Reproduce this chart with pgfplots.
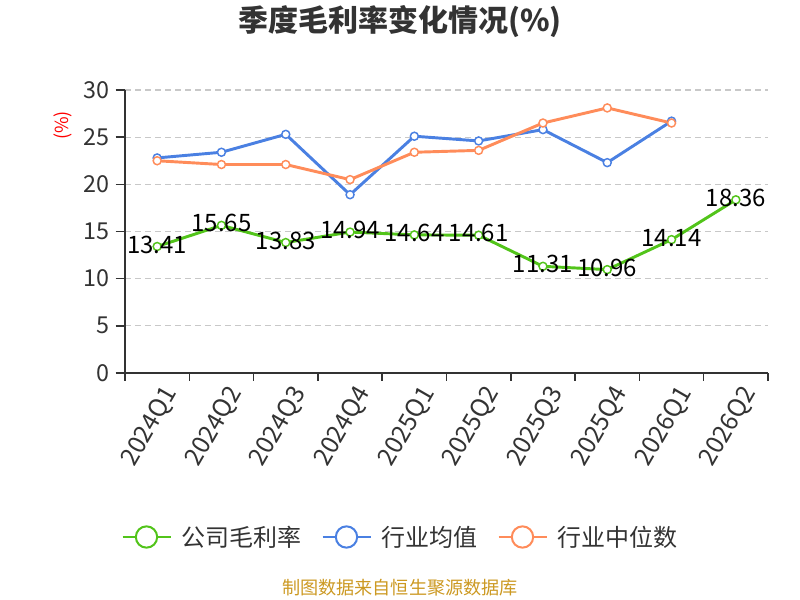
\documentclass[border=0pt]{standalone}
\usepackage{fontspec}
\setmainfont{Noto Sans CJK SC}
\usepackage{pgfplots}
\pgfplotsset{compat=1.18}
\definecolor{cgreen}{RGB}{82,196,26}
\definecolor{cblue}{RGB}{74,128,226}
\definecolor{corange}{RGB}{255,140,90}
\definecolor{ctext}{RGB}{51,51,51}
\definecolor{cgrid}{RGB}{200,200,200}
\definecolor{cfoot}{RGB}{204,153,34}
\begin{document}
\begin{tikzpicture}[x=1pt,y=1pt]
\useasboundingbox (0,0) rectangle (600,450);
\begin{axis}[
  at={(93.75pt,170.25pt)}, anchor=south west,
  scale only axis, width=482.25pt, height=212.25pt,
  xmin=-0.5, xmax=9.5, ymin=0, ymax=30,
  clip=false,
  axis x line*=bottom, axis y line*=left,
  axis line style={ctext, line width=1.1pt, -},
  tick align=outside,
  xtick={0,...,9},
  xticklabels={2024Q1,2024Q2,2024Q3,2024Q4,2025Q1,2025Q2,2025Q3,2025Q4,2026Q1,2026Q2},
  minor xtick={-0.5,0.5,...,9.5},
  major x tick style={draw=none},
  minor x tick style={ctext, line width=1.1pt},
  minor tick length=6pt,
  ytick={0,5,...,30},
  major y tick style={ctext, line width=1.1pt},
  major tick length=7pt,
  ymajorgrids,
  major grid style={cgrid, line width=0.9pt, dash pattern=on 4.5pt off 3pt},
  /pgf/number format/assume math mode=true,
  yticklabel style={font=\fontsize{17.5}{20}\selectfont, text=ctext, xshift=-1pt},
  xticklabel style={font=\fontsize{18.5}{20}\selectfont, text=ctext, rotate=60, anchor=east, yshift=-12pt, xshift=4.5pt},
  legend columns=3,
  legend style={at={(0.429,-0.5795)}, anchor=center, draw=none, fill=none,
    font=\fontsize{18}{20}\selectfont, text=ctext,
    /tikz/every odd column/.append style={column sep=5.5pt},
    /tikz/every even column/.append style={column sep=13pt}},
  legend image code/.code={
    \draw[#1, line width=1.5pt] (0pt,0pt) -- (36pt,0pt);
    \draw[#1, line width=1.5pt, fill=white] (18pt,0pt) circle (8pt);
  },
]
\addplot[color=cgreen, line width=2.2pt, mark=*, mark size=3pt,
  mark options={fill=white, draw=cgreen, line width=1.1pt},
  nodes near coords, point meta=explicit symbolic,
  every node near coord/.append style={anchor=center, yshift=1.5pt,
    font=\fontsize{18}{20}\selectfont, text=black}]
coordinates {(0,13.41) [13.41] (1,15.65) [15.65] (2,13.83) [13.83] (3,14.94) [14.94]
 (4,14.64) [14.64] (5,14.61) [14.61] (6,11.31) [11.31] (7,10.96) [10.96]
 (8,14.14) [14.14] (9,18.36) [18.36]};
\addlegendentry{公司毛利率}
\addplot[color=cblue, line width=2.2pt, mark=*, mark size=3pt,
  mark options={fill=white, draw=cblue, line width=1.1pt}]
coordinates {(0,22.8) (1,23.4) (2,25.3) (3,18.9) (4,25.1) (5,24.6) (6,25.8) (7,22.3) (8,26.7)};
\addlegendentry{行业均值}
\addplot[color=corange, line width=2.2pt, mark=*, mark size=3pt,
  mark options={fill=white, draw=corange, line width=1.1pt}]
coordinates {(0,22.5) (1,22.1) (2,22.1) (3,20.5) (4,23.4) (5,23.6) (6,26.5) (7,28.1) (8,26.5)};
\addlegendentry{行业中位数}
\end{axis}
\node[rotate=90, text=red, font=\fontsize{13.5}{15}\selectfont] at (47.25,355.8) {(\%)};
\node[font=\fontsize{22.5}{25}\selectfont\bfseries, text=ctext] at (300,433.5) {季度毛利率变化情况(\%)};
\node[font=\fontsize{13.6}{15}\selectfont, text=cfoot] at (300,9.5) {制图数据来自恒生聚源数据库};
\end{tikzpicture}
\end{document}
